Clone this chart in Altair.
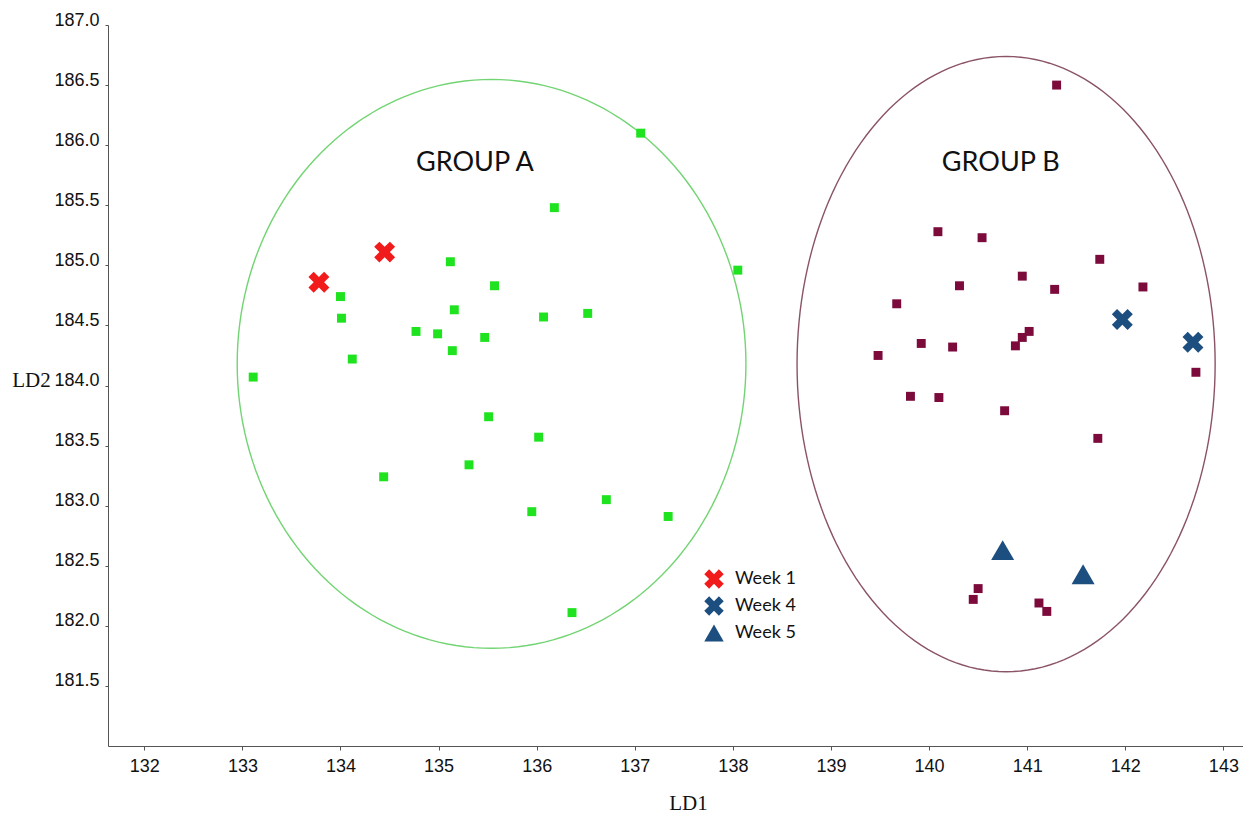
import altair as alt
import numpy as np
import pandas as pd

# ---------------- data ----------------
group_a_ld1 = [137.06, 136.18, 135.12, 138.05, 135.57, 134.00, 134.01, 135.16,
               134.77, 134.99, 135.47, 136.07, 136.52, 135.14, 134.12, 133.11,
               135.51, 136.02, 135.31, 134.44, 136.71, 135.95, 137.34, 136.36]
group_a_ld2 = [186.10, 185.48, 185.03, 184.96, 184.83, 184.74, 184.56, 184.63,
               184.45, 184.43, 184.40, 184.57, 184.60, 184.29, 184.22, 184.07,
               183.74, 183.57, 183.34, 183.24, 183.05, 182.95, 182.91, 182.11]

group_b_ld1 = [140.09, 140.54, 141.74, 140.95, 140.31, 141.28, 142.18, 139.67,
               141.02, 140.95, 140.88, 139.92, 140.24, 139.48, 139.81, 140.10,
               140.77, 141.72, 142.72, 141.30, 140.50, 140.45, 141.12, 141.20]
group_b_ld2 = [185.28, 185.23, 185.05, 184.91, 184.83, 184.80, 184.82, 184.68,
               184.45, 184.40, 184.33, 184.35, 184.32, 184.25, 183.91, 183.90,
               183.79, 183.56, 184.11, 186.50, 182.31, 182.22, 182.19, 182.12]

week_names = ["Week 1", "Week 4", "Week 5"]
week_label = ["Week 1", "Week 1", "Week 4", "Week 4", "Week 5", "Week 5"]
week_ld1 = [134.45, 133.78, 141.97, 142.69, 140.75, 141.57]
week_ld2 = [185.11, 184.86, 184.55, 184.36, 182.63, 182.43]

ellipse_names = ["A", "B"]
ellipse_cx = [135.54, 140.785]
ellipse_cy = [184.18, 184.178]
ellipse_rx = [2.593, 2.131]
ellipse_ry = [2.367, 2.560]

group_labels = ["GROUP A", "GROUP B"]
group_label_ld1 = [135.37, 140.73]
group_label_ld2 = [185.85, 185.85]

x_ticks = list(range(132, 144))
y_ticks = [181.5, 182.0, 182.5, 183.0, 183.5, 184.0, 184.5, 185.0, 185.5,
           186.0, 186.5, 187.0]

# ---------------- tables ----------------
df_a = pd.DataFrame({"ld1": group_a_ld1, "ld2": group_a_ld2})
df_b = pd.DataFrame({"ld1": group_b_ld1, "ld2": group_b_ld2})
df_w = pd.DataFrame({"ld1": week_ld1, "ld2": week_ld2, "week": week_label})
df_t = pd.DataFrame({"ld1": group_label_ld1, "ld2": group_label_ld2,
                     "label": group_labels})

rows = []
deg = np.arange(0, 362, 2)
for n, cx, cy, rx, ry in zip(ellipse_names, ellipse_cx, ellipse_cy,
                             ellipse_rx, ellipse_ry):
    t = np.deg2rad(deg)
    rows.append(pd.DataFrame({"ellipse": n, "order": deg,
                              "ld1": cx + rx * np.cos(t),
                              "ld2": cy + ry * np.sin(t)}))
df_e = pd.concat(rows, ignore_index=True)

# ---------------- encodings ----------------
XPATH = ("M-1,-0.5L-0.5,-1L0,-0.5L0.5,-1L1,-0.5L0.5,0L1,0.5L0.5,1"
         "L0,0.5L-0.5,1L-1,0.5L-0.5,0Z")
RED = "#f21b1b"
BLUE = "#1d4e80"
GREEN = "#1ee31e"
PURPLE = "#7c0b3c"

x_enc = alt.X("ld1:Q",
              scale=alt.Scale(domain=[131.63, 143.2], nice=False, zero=False),
              axis=alt.Axis(values=x_ticks, format="d", title="LD1",
                            grid=False, labelFlush=False,
                            labelFont="Liberation Sans", labelFontSize=18,
                            labelColor="#111111", labelPadding=7,
                            tickSize=4, tickColor="#555555",
                            domainColor="#555555",
                            titleFont="Liberation Serif", titleFontSize=21,
                            titleFontWeight="normal", titleColor="#111111",
                            titleX=580, titleY=57, titleAlign="center",
                            titleBaseline="middle"))
y_enc = alt.Y("ld2:Q",
              scale=alt.Scale(domain=[181.0, 187.0], nice=False, zero=False),
              axis=alt.Axis(values=y_ticks, format=".1f", title="LD2",
                            grid=False, labelFlush=False,
                            labelFont="Liberation Sans", labelFontSize=18,
                            labelColor="#111111", labelPadding=6,
                            labelBaseline="alphabetic",
                            tickSize=3, tickColor="#555555",
                            domainColor="#555555",
                            titleFont="Liberation Serif", titleFontSize=21,
                            titleFontWeight="normal", titleColor="#111111",
                            titleAngle=0, titleX=-77, titleY=355,
                            titleAlign="center", titleBaseline="middle"))

legend = alt.Legend(title=None, orient="none", legendX=596, legendY=544,
                    labelFont="Lato", labelFontSize=18, labelColor="#111111",
                    symbolSize=380, symbolStrokeWidth=0, rowPadding=7,
                    labelOffset=11, padding=0)
color_enc = alt.Color("week:N",
                      scale=alt.Scale(domain=week_names,
                                      range=[RED, BLUE, BLUE]),
                      legend=legend)
shape_enc = alt.Shape("week:N",
                      scale=alt.Scale(domain=week_names,
                                      range=[XPATH, XPATH, "triangle-up"]),
                      legend=legend)

# ---------------- layers ----------------
ell_a = alt.Chart(df_e).transform_filter(alt.datum.ellipse == "A").mark_line(
    color="#72d472", strokeWidth=1.4).encode(x=x_enc, y=y_enc, order="order:Q")
ell_b = alt.Chart(df_e).transform_filter(alt.datum.ellipse == "B").mark_line(
    color="#8a5366", strokeWidth=1.4).encode(x=x_enc, y=y_enc, order="order:Q")

pts_a = alt.Chart(df_a).mark_square(filled=True, size=80, color=GREEN,
                                    opacity=1).encode(x=x_enc, y=y_enc)
pts_b = alt.Chart(df_b).mark_square(filled=True, size=80, color=PURPLE,
                                    opacity=1).encode(x=x_enc, y=y_enc)

wk_x = alt.Chart(df_w).transform_filter(
    alt.datum.week != "Week 5").mark_point(
    filled=True, size=440, opacity=1, strokeWidth=0).encode(
    x=x_enc, y=y_enc, color=color_enc, shape=shape_enc)
wk_t = alt.Chart(df_w).transform_filter(
    alt.datum.week == "Week 5").mark_point(
    filled=True, size=530, opacity=1, strokeWidth=0).encode(
    x=x_enc, y=y_enc, color=color_enc, shape=shape_enc)

txt = alt.Chart(df_t).mark_text(font="Lato", fontSize=27, color="#111111",
                                align="center", baseline="middle").encode(
    x=x_enc, y=y_enc, text="label:N")

chart = alt.layer(ell_a, ell_b, pts_a, pts_b, wk_x, wk_t, txt).properties(
    width=1135, height=721,
    background="white",
    autosize=alt.AutoSizeParams(type="none"),
    padding={"left": 100, "top": 17, "right": 0, "bottom": 67},
).configure_view(strokeWidth=0, stroke="transparent")

chart.save("out.html", embed_options={"renderer": "svg", "actions": False})
